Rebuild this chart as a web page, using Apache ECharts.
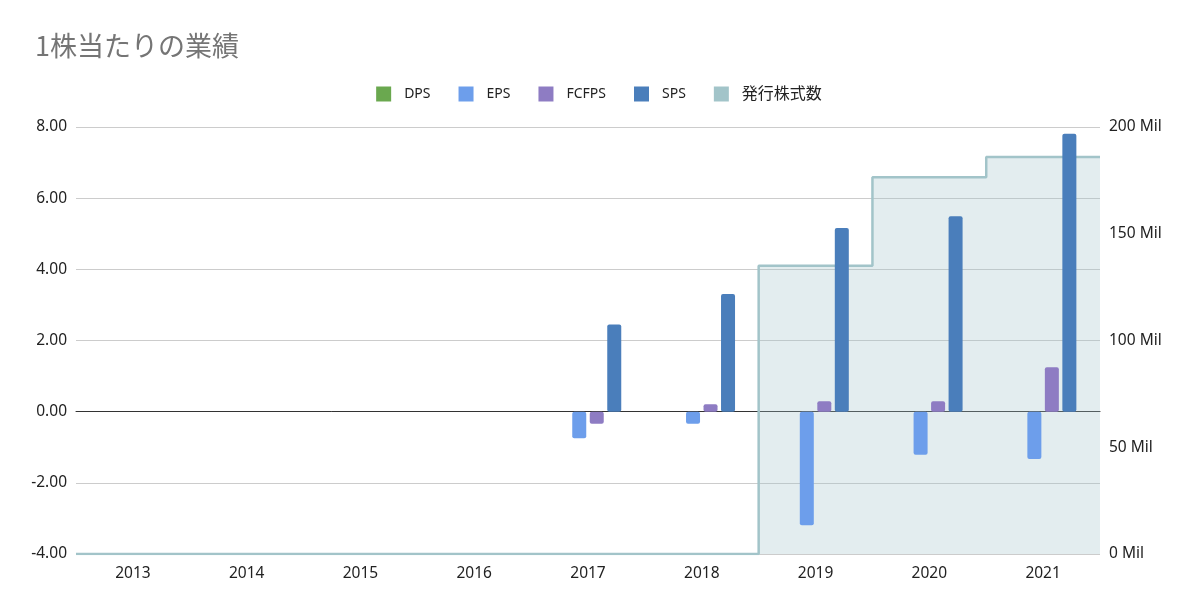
<!DOCTYPE html>
<html>
<head>
<meta charset="utf-8">
<script src="https://cdn.jsdelivr.net/npm/echarts@6/dist/echarts.min.js"></script>
<style>
html,body{margin:0;padding:0;background:#fff;}
#chart{width:1198px;height:613px;}
</style>
</head>
<body>
<div id="chart"></div>
<script>
const years = ['2013','2014','2015','2016','2017','2018','2019','2020','2021'];
const dps   = [null,null,null,null,0,0,0,0,0];
const eps   = [null,null,null,null,-0.75,-0.34,-3.19,-1.21,-1.33];
const fcfps = [null,null,null,null,-0.34,0.21,0.29,0.29,1.25];
const sps   = [null,null,null,null,2.45,3.31,5.16,5.49,7.81];
const shares = [0,0,0,0,0,0,135,176.5,186]; // millions
const leftTicks = {min:-4, max:8, interval:2};
const rightTicks = {min:0, max:200, interval:50};

// step line points at category indices, extended to the plot edges
const sharePts = [[-0.5, shares[0]]]
  .concat(shares.map((v,i)=>[i,v]))
  .concat([[years.length-0.5, shares[shares.length-1]]]);

const font = '"Noto Sans", "Open Sans", "Noto Sans CJK JP", sans-serif';
const chart = echarts.init(document.getElementById('chart'));
const barCommon = {type:'bar', barWidth:14, barGap:'25%', z:3};
const legendText = {fontFamily:font, fontSize:14, color:'#222', padding:[0,0,0,8]};
chart.setOption({
  animation:false,
  backgroundColor:'#fff',
  title:{text:'1株当たりの業績', left:30, top:27,
    textStyle:{fontFamily:'"Noto Sans CJK JP", sans-serif', fontSize:27, fontWeight:'normal', color:'#757575'}},
  legend:{top:81, left:'center', itemWidth:15, itemHeight:15, itemGap:28, icon:'rect',
    textStyle:legendText,
    data:[
      {name:'DPS'},{name:'EPS'},{name:'FCFPS'},{name:'SPS'},
      {name:'発行株式数', textStyle:{fontSize:16}}
    ]},
  grid:{left:76, right:98, top:127, bottom:59},
  xAxis:[
    {type:'category', data:years,
     axisLine:{onZero:true, lineStyle:{color:'#333', width:1}},
     axisTick:{show:false},
     axisLabel:{color:'#222', fontFamily:font, fontSize:15.5, margin:12}},
    {type:'value', min:-0.5, max:years.length-0.5, show:false}
  ],
  yAxis:[
    {type:'value', min:leftTicks.min, max:leftTicks.max, interval:leftTicks.interval,
     axisLine:{show:false}, axisTick:{show:false},
     splitLine:{lineStyle:{color:'#cccccc', width:1}},
     axisLabel:{color:'#222', fontFamily:font, fontSize:15.5, margin:9,
       formatter:v=>v.toFixed(2)}},
    {type:'value', min:rightTicks.min, max:rightTicks.max, interval:rightTicks.interval,
     position:'right', axisLine:{show:false}, axisTick:{show:false},
     splitLine:{show:false},
     axisLabel:{color:'#222', fontFamily:font, fontSize:15.5, margin:9,
       formatter:v=>v+' Mil'}}
  ],
  series:[
    Object.assign({name:'DPS', data:dps}, barCommon, {itemStyle:{color:'#6aa84f', borderRadius:2}}),
    Object.assign({name:'EPS', data:eps}, barCommon, {itemStyle:{color:'#6d9eeb', borderRadius:2}}),
    Object.assign({name:'FCFPS', data:fcfps}, barCommon, {itemStyle:{color:'#8e7cc3', borderRadius:2}}),
    Object.assign({name:'SPS', data:sps}, barCommon, {itemStyle:{color:'#4a7ebb', borderRadius:2}}),
    {name:'発行株式数', type:'line', xAxisIndex:1, yAxisIndex:1, step:'middle',
     data:sharePts, symbol:'none', z:1,
     itemStyle:{color:'#a2c4c9'},
     lineStyle:{color:'#a2c4c9', width:2.5},
     areaStyle:{color:'rgba(162,196,201,0.3)', opacity:1}}
  ]
});
</script>
</body>
</html>
